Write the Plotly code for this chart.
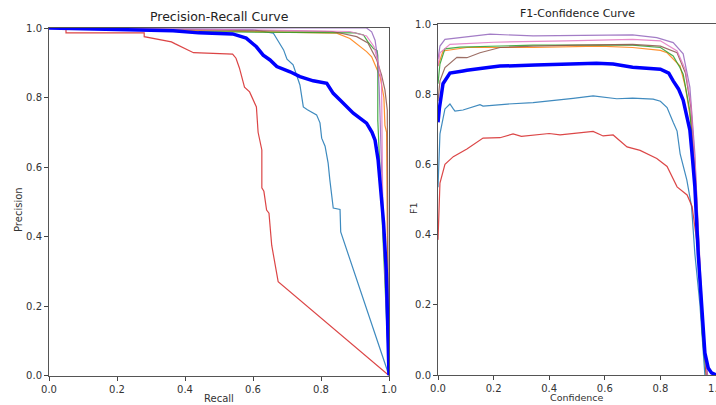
import plotly.graph_objects as go

# ---------------- Data: Precision-Recall ----------------
pr_r_c0 = [0, 0.6, 0.66, 0.69, 0.70, 0.718, 0.738, 0.748, 0.76, 0.787, 0.797, 0.802, 0.812, 0.821, 0.826, 0.836, 0.856, 0.858, 1.0]
pr_p_c0 = [1.0, 0.995, 0.985, 0.937, 0.91, 0.894, 0.836, 0.773, 0.765, 0.75, 0.727, 0.683, 0.66, 0.611, 0.563, 0.482, 0.478, 0.413, 0.0]

pr_r_c1 = [0, 0.5, 0.846, 0.885, 0.91, 0.934, 0.949, 0.963, 0.974, 0.985, 0.988, 0.993, 0.995, 1.0]
pr_p_c1 = [1.0, 0.99, 0.985, 0.97, 0.951, 0.932, 0.917, 0.885, 0.86, 0.80, 0.72, 0.70, 0.4, 0.0]

pr_r_c2 = [0, 0.4, 0.9, 0.925, 0.938, 0.955, 0.965, 0.967, 0.967, 1.0]
pr_p_c2 = [1.0, 0.99, 0.986, 0.98, 0.96, 0.94, 0.935, 0.92, 0.735, 0.0]

pr_r_c3 = [0, 0.05, 0.05, 0.28, 0.28, 0.36, 0.37, 0.40, 0.425, 0.54, 0.55, 0.56, 0.575, 0.59, 0.61, 0.615, 0.626, 0.626, 0.632, 0.64, 0.647, 0.655, 0.661, 0.664, 0.668, 0.674, 1.0]
pr_p_c3 = [1.0, 1.0, 0.986, 0.986, 0.975, 0.96, 0.955, 0.94, 0.929, 0.925, 0.913, 0.885, 0.83, 0.816, 0.773, 0.70, 0.649, 0.54, 0.53, 0.476, 0.467, 0.375, 0.342, 0.332, 0.299, 0.27, 0.0]

pr_r_c4 = [0, 0.934, 0.949, 0.959, 0.966, 0.971, 0.974, 0.978, 1.0]
pr_p_c4 = [1.0, 1.0, 0.989, 0.965, 0.917, 0.831, 0.735, 0.6, 0.0]

pr_r_c5 = [0, 0.5, 0.835, 0.905, 0.938, 0.964, 0.978, 0.988, 0.995, 0.997, 1.0]
pr_p_c5 = [1.0, 0.995, 0.99, 0.975, 0.957, 0.908, 0.865, 0.822, 0.764, 0.3, 0.0]

pr_r_c6 = [0, 0.6, 0.885, 0.934, 0.956, 0.968, 0.978, 0.98, 0.982, 1.0]
pr_p_c6 = [1.0, 0.995, 0.99, 0.977, 0.946, 0.9, 0.85, 0.7, 0.45, 0.0]

pr_r_all = [0, 0.15, 0.365, 0.44, 0.54, 0.58, 0.61, 0.63, 0.65, 0.67, 0.709, 0.738, 0.777, 0.817, 0.836, 0.856, 0.895, 0.934, 0.95, 0.959, 0.968, 0.976, 0.984, 0.992, 0.997, 1.0]
pr_p_all = [1.0, 0.996, 0.992, 0.986, 0.983, 0.971, 0.946, 0.922, 0.908, 0.889, 0.874, 0.86, 0.848, 0.841, 0.812, 0.793, 0.755, 0.726, 0.70, 0.677, 0.62, 0.53, 0.44, 0.3, 0.15, 0.0]

# ---------------- Data: F1-Confidence ----------------
f1_c_c0 = [0, 0.007, 0.025, 0.036, 0.043, 0.055, 0.061, 0.09, 0.151, 0.162, 0.25, 0.342, 0.42, 0.486, 0.558, 0.6, 0.643, 0.7, 0.774, 0.8, 0.824, 0.846, 0.86, 0.871, 0.895, 0.912, 0.924, 0.942, 0.953, 0.96]
f1_v_c0 = [0.535, 0.687, 0.758, 0.766, 0.772, 0.758, 0.752, 0.755, 0.77, 0.766, 0.772, 0.776, 0.782, 0.788, 0.795, 0.79, 0.787, 0.789, 0.786, 0.78, 0.762, 0.72, 0.695, 0.63, 0.556, 0.48, 0.345, 0.202, 0.06, 0.0]

f1_c_c1 = [0, 0.018, 0.104, 0.342, 0.58, 0.7, 0.8, 0.824, 0.871, 0.89, 0.91, 0.925, 0.94, 0.955, 0.968]
f1_v_c1 = [0.88, 0.923, 0.933, 0.933, 0.937, 0.933, 0.925, 0.918, 0.88, 0.82, 0.72, 0.56, 0.33, 0.1, 0.0]

f1_c_c2 = [0, 0.007, 0.025, 0.079, 0.342, 0.5, 0.7, 0.8, 0.846, 0.87, 0.882, 0.906, 0.92, 0.935, 0.95, 0.965]
f1_v_c2 = [0.83, 0.886, 0.929, 0.934, 0.94, 0.94, 0.94, 0.933, 0.909, 0.876, 0.857, 0.752, 0.6, 0.38, 0.12, 0.0]

f1_c_c3 = [0, 0.007, 0.025, 0.055, 0.104, 0.162, 0.223, 0.27, 0.3, 0.342, 0.4, 0.439, 0.5, 0.558, 0.594, 0.63, 0.68, 0.727, 0.787, 0.824, 0.86, 0.896, 0.914, 0.924, 0.937, 0.948, 0.955, 0.965]
f1_v_c3 = [0.385, 0.547, 0.60, 0.622, 0.644, 0.675, 0.676, 0.687, 0.68, 0.684, 0.688, 0.684, 0.69, 0.694, 0.681, 0.684, 0.65, 0.64, 0.617, 0.594, 0.536, 0.513, 0.48, 0.423, 0.345, 0.2, 0.11, 0.0]

f1_c_c4 = [0, 0.007, 0.025, 0.08, 0.187, 0.342, 0.5, 0.7, 0.787, 0.82, 0.846, 0.882, 0.906, 0.924, 0.935, 0.948, 0.96, 0.97]
f1_v_c4 = [0.9, 0.937, 0.956, 0.961, 0.971, 0.966, 0.967, 0.969, 0.961, 0.952, 0.947, 0.915, 0.82, 0.63, 0.44, 0.2, 0.05, 0.0]

f1_c_c5 = [0, 0.007, 0.025, 0.068, 0.104, 0.151, 0.223, 0.342, 0.5, 0.7, 0.8, 0.86, 0.89, 0.91, 0.925, 0.94, 0.955, 0.968]
f1_v_c5 = [0.78, 0.838, 0.876, 0.905, 0.904, 0.918, 0.933, 0.937, 0.94, 0.942, 0.937, 0.918, 0.86, 0.76, 0.58, 0.34, 0.1, 0.0]

f1_c_c6 = [0, 0.007, 0.043, 0.2, 0.463, 0.7, 0.8, 0.86, 0.89, 0.91, 0.925, 0.94, 0.955, 0.968]
f1_v_c6 = [0.88, 0.918, 0.942, 0.948, 0.952, 0.956, 0.952, 0.923, 0.87, 0.77, 0.6, 0.35, 0.12, 0.0]

f1_c_all = [0, 0.005, 0.018, 0.043, 0.09, 0.104, 0.187, 0.223, 0.35, 0.463, 0.57, 0.63, 0.70, 0.8, 0.83, 0.846, 0.865, 0.882, 0.895, 0.906, 0.915, 0.924, 0.936, 0.948, 0.96, 0.972, 0.984, 1.0]
f1_v_all = [0.72, 0.76, 0.83, 0.86, 0.866, 0.868, 0.877, 0.88, 0.883, 0.885, 0.888, 0.886, 0.877, 0.871, 0.86, 0.838, 0.815, 0.783, 0.74, 0.698, 0.62, 0.536, 0.345, 0.205, 0.063, 0.02, 0.006, 0.0]

tick_vals = [0, 0.2, 0.4, 0.6, 0.8, 1.0]
tick_text = ["0.0", "0.2", "0.4", "0.6", "0.8", "1.0"]

class_colors = ["#1f77b4", "#ff7f0e", "#2ca02c", "#d62728", "#9467bd", "#8c564b", "#e377c2"]

pr_sets = [(pr_r_c0, pr_p_c0), (pr_r_c1, pr_p_c1), (pr_r_c2, pr_p_c2), (pr_r_c3, pr_p_c3),
           (pr_r_c4, pr_p_c4), (pr_r_c5, pr_p_c5), (pr_r_c6, pr_p_c6)]
f1_sets = [(f1_c_c0, f1_v_c0), (f1_c_c1, f1_v_c1), (f1_c_c2, f1_v_c2), (f1_c_c3, f1_v_c3),
           (f1_c_c4, f1_v_c4), (f1_c_c5, f1_v_c5), (f1_c_c6, f1_v_c6)]

fig = go.Figure()
for (x, y), col in zip(pr_sets, class_colors):
    fig.add_trace(go.Scatter(x=x, y=y, mode="lines", line=dict(color=col, width=1.2),
                             opacity=0.85, xaxis="x", yaxis="y", showlegend=False))
fig.add_trace(go.Scatter(x=pr_r_all, y=pr_p_all, mode="lines", line=dict(color="blue", width=3.5),
                         xaxis="x", yaxis="y", showlegend=False))
for (x, y), col in zip(f1_sets, class_colors):
    fig.add_trace(go.Scatter(x=x, y=y, mode="lines", line=dict(color=col, width=1.2),
                             opacity=0.85, xaxis="x2", yaxis="y2", showlegend=False))
fig.add_trace(go.Scatter(x=f1_c_all, y=f1_v_all, mode="lines", line=dict(color="blue", width=3.5),
                         xaxis="x2", yaxis="y2", showlegend=False))

W, H = 716, 405
axis_common = dict(range=[0, 1], tickvals=tick_vals, ticktext=tick_text, ticks="outside",
                   ticklen=4, tickwidth=1, tickcolor="#444", showline=True, linecolor="#555",
                   linewidth=1, showgrid=False, zeroline=False, automargin=False,
                   ticklabeloverflow="allow",
                   tickfont=dict(family="DejaVu Sans", size=10, color="#333"))

def ann(text, px, py, size, angle=0, color="#333"):
    return dict(text=text, x=px / W, y=1 - py / H, xref="paper", yref="paper",
                showarrow=False, textangle=angle, xanchor="center", yanchor="middle",
                font=dict(family="DejaVu Sans", size=size, color=color))

fig.update_layout(
    width=W, height=H, margin=dict(l=0, r=0, t=0, b=0, pad=0, autoexpand=False),
    paper_bgcolor="white", plot_bgcolor="white",
    font=dict(family="DejaVu Sans", size=10, color="#333"),
    xaxis=dict(domain=[49 / W, 389 / W], anchor="y", mirror=True, **axis_common),
    yaxis=dict(domain=[(H - 375.5) / H, (H - 28) / H], anchor="x", mirror=True, **axis_common),
    xaxis2=dict(domain=[438 / W, 1.0], anchor="y2", mirror=True, **axis_common),
    yaxis2=dict(domain=[(H - 375) / H, (H - 24) / H], anchor="x2", mirror=False, **axis_common),
    annotations=[
        ann("Precision-Recall Curve", 219, 17, 12.5, color="#222"),
        ann("Recall", 219, 398, 10),
        ann("Precision", 18, 210, 10, angle=-90),
        ann("F1-Confidence Curve", 577, 13, 11, color="#222"),
        ann("Confidence", 577, 397, 9.5),
        ann("F1", 413, 208, 9.5, angle=-90),
    ],
)

fig.write_html("out.html", config={"displayModeBar": False},
               post_script="document.body.style.margin='0';document.body.style.overflow='hidden';")
